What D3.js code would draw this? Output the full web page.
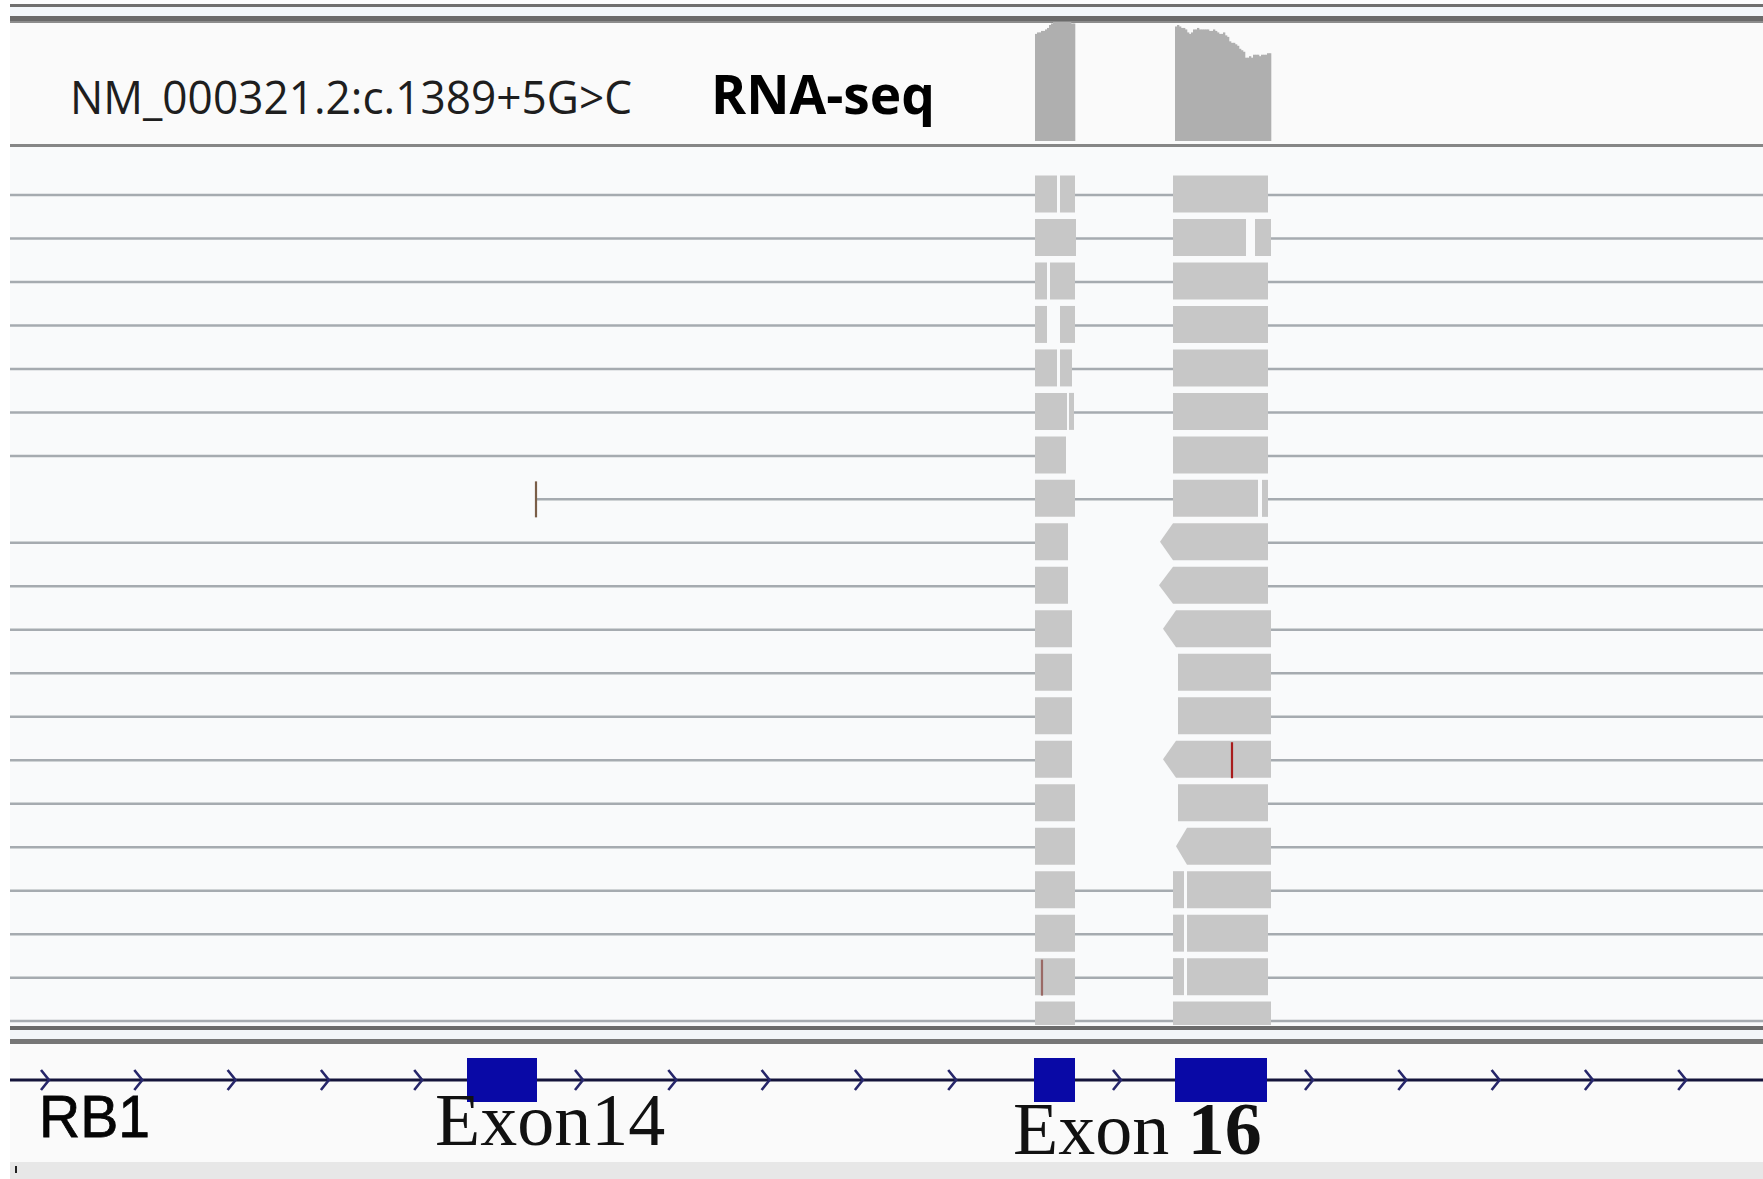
<!DOCTYPE html>
<html>
<head>
<meta charset="utf-8">
<script src="https://cdn.jsdelivr.net/npm/d3@7/dist/d3.min.js"></script>
<style>
  body { margin: 0; background: #fff; }
  svg { display: block; }
</style>
</head>
<body>
<svg id="igv" width="1763" height="1179"></svg>
<script>
// view window, bp offset from the left edge of the IGV panel
const viewRange = [0, 877];

const variantLabel = "NM_000321.2:c.1389+5G>C";
const trackLabel = "RNA-seq";
const geneName = "RB1";

const exonNames = ["Exon14", "Exon15", "Exon16"];
const exonStarts = [229, 512.5, 583];
const exonEnds = [264, 533, 629];
const exonLabels = ["Exon14", null, "Exon 16"];

// coverage (read depth per bp)
const cov15Start = 513;
const cov15 = [36, 36.5, 36.5, 37, 37, 37.5, 38, 39, 39.5, 40,
  40, 40, 40, 40, 40, 40, 40, 40, 39.5, 39.5];
const cov16Start = 583;
const cov16 = [38.5, 39, 38.5, 38, 38, 37.5,
  36.5, 36, 36.5,
  37.5, 37.5, 38, 37.5, 37.5, 37.5, 37.5, 37.5, 37, 37, 37.5, 37, 36.5,
  36, 36, 36.5, 35.5, 35,
  33.5, 33, 33, 32.5, 32,
  31, 30.5, 30,
  28, 28, 28.5, 28,
  29, 29, 29, 28.5, 29, 29, 29,
  29.5, 29.5];

// split reads, one per row: blocks on exon 15 and exon 16
const rowE15 = [
  [[513, 524], [525.5, 533]],
  [[513, 533.5]],
  [[513, 519], [520.5, 533]],
  [[513, 519], [525.5, 533]],
  [[513, 524], [525.5, 531.5]],
  [[513, 529], [530, 532.5]],
  [[513, 528.5]],
  [[513, 533]],
  [[513, 529.5]],
  [[513, 529.5]],
  [[513, 531.5]],
  [[513, 531.5]],
  [[513, 531.5]],
  [[513, 531.5]],
  [[513, 533]],
  [[513, 533]],
  [[513, 533]],
  [[513, 533]],
  [[513, 533]],
  [[513, 533]]
];
const rowE16 = [
  [[582, 629.5]],
  [[582, 618.5], [623, 631]],
  [[582, 629.5]],
  [[582, 629.5]],
  [[582, 629.5]],
  [[582, 629.5]],
  [[582, 629.5]],
  [[582, 624.5], [626.5, 629.5]],
  [[582, 629.5]],
  [[582, 629.5]],
  [[583.5, 631]],
  [[584.5, 631]],
  [[584.5, 631]],
  [[583.5, 631]],
  [[584.5, 629.5]],
  [[589, 631]],
  [[582, 587.5], [589, 631]],
  [[582, 587.5], [589, 629.5]],
  [[582, 587.5], [589, 629.5]],
  [[582, 631]]
];
// reverse-strand reads: arrow tip position (null = forward)
const rowTips = [null, null, null, null, null, null, null, null, 575.5, 575,
  577, null, null, 577, null, 583.5, null, null, null, null];
// junction line drawn between exon 15 and exon 16
const rowJoined = [true, true, true, true, true, true, false, true, false, false,
  false, false, false, false, false, false, true, true, true, true];
// where the row line starts on the left
const rowLeft = [0, 0, 0, 0, 0, 0, 0, 263.5, 0, 0,
  0, 0, 0, 0, 0, 0, 0, 0, 0, 0];

const mismatchRows = [7, 13, 18];
const mismatchPos = [263.5, 611.5, 516.5];
const mismatchQual = ["low", "high", "faint"];

const svg = d3.select("#igv");
const W = 1763;
const H = 1179;
const left = 10;

const x = d3.scaleLinear().domain(viewRange).range([9, 1763]);

const yCov = d3.scaleLinear().domain([0, 40]).range([141, 22]);

const rows = d3.range(rowE15.length);
const yRow = d3
  .scaleBand()
  .domain(rows)
  .range([175, 175 + rows.length * 43.48])
  .paddingInner(0);
const readH = 37;

const qualColor = d3
  .scaleOrdinal()
  .domain(["low", "high", "faint"])
  .range(["#7a5e48", "#a81c1c", "#9a6a66"]);

// ---- panels / separators ----
const bands = [
  [0, 4, "#fbfcfd"],
  [4, 7, "#6e6e6e"],
  [7, 16, "#f2f6fa"],
  [16, 21, "#6a6a6a"],
  [21, 23, "#8c8c8c"],
  [23, 144, "#fafafa"],
  [144, 147, "#868686"],
  [147, 1026, "#f9fafb"],
  [1026, 1030, "#6b6b6b"],
  [1030, 1039, "#f3f6f9"],
  [1039, 1044, "#767676"],
  [1044, 1162, "#fafafa"],
  [1162, 1179, "#e7e7e7"]
];
svg
  .append("rect")
  .attr("width", W)
  .attr("height", H)
  .attr("fill", "#ffffff");
svg
  .selectAll("rect.band")
  .data(bands)
  .enter()
  .append("rect")
  .attr("class", "band")
  .attr("x", left)
  .attr("y", d => d[0])
  .attr("width", W - left)
  .attr("height", d => d[1] - d[0])
  .attr("fill", d => d[2]);

// ---- coverage ----
const covData = cov15
  .map((v, i) => ({ pos: cov15Start + i, v }))
  .concat(cov16.map((v, i) => ({ pos: cov16Start + i, v })));
svg
  .selectAll("rect.cov")
  .data(covData)
  .enter()
  .append("rect")
  .attr("class", "cov")
  .attr("x", d => x(d.pos))
  .attr("width", d => x(d.pos + 1) - x(d.pos) + 0.3)
  .attr("y", d => yCov(d.v))
  .attr("height", d => yCov(0) - yCov(d.v))
  .attr("fill", "#afafaf");

// ---- labels in the coverage track ----
svg
  .append("text")
  .attr("x", 70)
  .attr("y", 114)
  .attr("font-family", "'Open Sans', sans-serif")
  .attr("font-size", 45)
  .attr("textLength", 562)
  .attr("lengthAdjust", "spacingAndGlyphs")
  .attr("fill", "#1e1e1e")
  .text(variantLabel);
svg
  .append("text")
  .attr("x", 711)
  .attr("y", 114)
  .attr("font-family", "'Open Sans', sans-serif")
  .attr("font-weight", "bold")
  .attr("font-size", 54)
  .attr("textLength", 224)
  .attr("lengthAdjust", "spacingAndGlyphs")
  .attr("fill", "#000")
  .text(trackLabel);

// ---- reads ----
svg
  .append("clipPath")
  .attr("id", "readsClip")
  .append("rect")
  .attr("x", left)
  .attr("y", 147)
  .attr("width", W - left)
  .attr("height", 1025 - 147);
const reads = svg.append("g").attr("clip-path", "url(#readsClip)");

const segments = [];
rows.forEach(i => {
  const e15 = rowE15[i];
  const e16 = rowE16[i];
  const e16start = rowTips[i] !== null ? rowTips[i] : e16[0][0];
  segments.push([i, rowLeft[i], e15[0][0]]);
  if (rowJoined[i]) segments.push([i, e15[e15.length - 1][1], e16start]);
  segments.push([i, e16[e16.length - 1][1], viewRange[1]]);
});

reads
  .selectAll("line.row")
  .data(segments)
  .enter()
  .append("line")
  .attr("class", "row")
  .attr("x1", d => x(d[1]))
  .attr("x2", d => x(d[2]))
  .attr("y1", d => yRow(d[0]) + 20)
  .attr("y2", d => yRow(d[0]) + 20)
  .attr("stroke", "#a6abb0")
  .attr("stroke-width", 2.5);

const blocks = [];
rows.forEach(i => {
  rowE15[i].forEach(b => blocks.push({ row: i, s: b[0], e: b[1], tip: null }));
  rowE16[i].forEach((b, k) =>
    blocks.push({ row: i, s: b[0], e: b[1], tip: k === 0 ? rowTips[i] : null })
  );
});

reads
  .selectAll("path.read")
  .data(blocks)
  .enter()
  .append("path")
  .attr("class", "read")
  .attr("d", d => {
    const t = yRow(d.row) + 0.5;
    const b = t + readH;
    const xs = x(d.s);
    const xe = x(d.e);
    if (d.tip !== null) {
      const xt = x(d.tip);
      return `M${xt},${(t + b) / 2}L${xs},${t}L${xe},${t}L${xe},${b}L${xs},${b}Z`;
    }
    return `M${xs},${t}L${xe},${t}L${xe},${b}L${xs},${b}Z`;
  })
  .attr("fill", "#c7c7c7");

reads
  .selectAll("line.mm")
  .data(mismatchRows)
  .enter()
  .append("line")
  .attr("class", "mm")
  .attr("x1", (d, i) => x(mismatchPos[i]))
  .attr("x2", (d, i) => x(mismatchPos[i]))
  .attr("y1", d => yRow(d) + 2)
  .attr("y2", d => yRow(d) + 38)
  .attr("stroke", (d, i) => qualColor(mismatchQual[i]))
  .attr("stroke-width", 2.2);

// ---- gene track ----
const geneY = 1080;
svg
  .append("line")
  .attr("x1", left)
  .attr("x2", W)
  .attr("y1", geneY)
  .attr("y2", geneY)
  .attr("stroke", "#14143a")
  .attr("stroke-width", 2.8);

// intron direction chevrons, IGV style: one every ~46.6 bp per intron
const intronStarts = [18 - 46.65].concat(exonEnds.map(e => e + 21 - 46.65));
const intronEnds = exonStarts.concat([viewRange[1]]);
const chevrons = [];
intronStarts.forEach((s, k) => {
  d3.range(s + 46.65, intronEnds[k] - 2, 46.65).forEach(p => chevrons.push(p));
});
svg
  .selectAll("path.chev")
  .data(chevrons)
  .enter()
  .append("path")
  .attr("class", "chev")
  .attr("d", d => {
    const cx = x(d);
    return `M${cx - 4},${geneY - 10}L${cx + 4},${geneY}L${cx - 4},${geneY + 10}`;
  })
  .attr("fill", "none")
  .attr("stroke", "#26266a")
  .attr("stroke-width", 2.6);

svg
  .selectAll("rect.exon")
  .data(exonNames)
  .enter()
  .append("rect")
  .attr("class", "exon")
  .attr("x", (d, i) => x(exonStarts[i]))
  .attr("width", (d, i) => x(exonEnds[i]) - x(exonStarts[i]))
  .attr("y", geneY - 22)
  .attr("height", 44)
  .attr("fill", "#0909a6");

svg
  .append("text")
  .attr("x", 39)
  .attr("y", 1137)
  .attr("font-family", "'Liberation Sans', Arial, sans-serif")
  .attr("font-size", 60)
  .attr("textLength", 111)
  .attr("lengthAdjust", "spacingAndGlyphs")
  .attr("fill", "#050505")
  .attr("stroke", "#050505")
  .attr("stroke-width", 0.8)
  .text(geneName);

// exon labels
svg
  .append("text")
  .attr("x", 435)
  .attr("y", 1145)
  .attr("font-family", "'Liberation Serif', 'Times New Roman', serif")
  .attr("font-size", 74)
  .attr("fill", "#111")
  .text(exonLabels[0]);

const ex16 = svg
  .append("text")
  .attr("x", 1013)
  .attr("y", 1154)
  .attr("font-family", "'Liberation Serif', 'Times New Roman', serif")
  .attr("font-size", 74)
  .attr("fill", "#111");
ex16.append("tspan").text(exonLabels[2].split(" ")[0] + " ");
ex16
  .append("tspan")
  .attr("font-weight", "bold")
  .text(exonLabels[2].split(" ")[1]);

// little mark bottom-left
svg
  .append("line")
  .attr("x1", 16)
  .attr("x2", 16)
  .attr("y1", 1166)
  .attr("y2", 1173)
  .attr("stroke", "#222")
  .attr("stroke-width", 2);
</script>
</body>
</html>
